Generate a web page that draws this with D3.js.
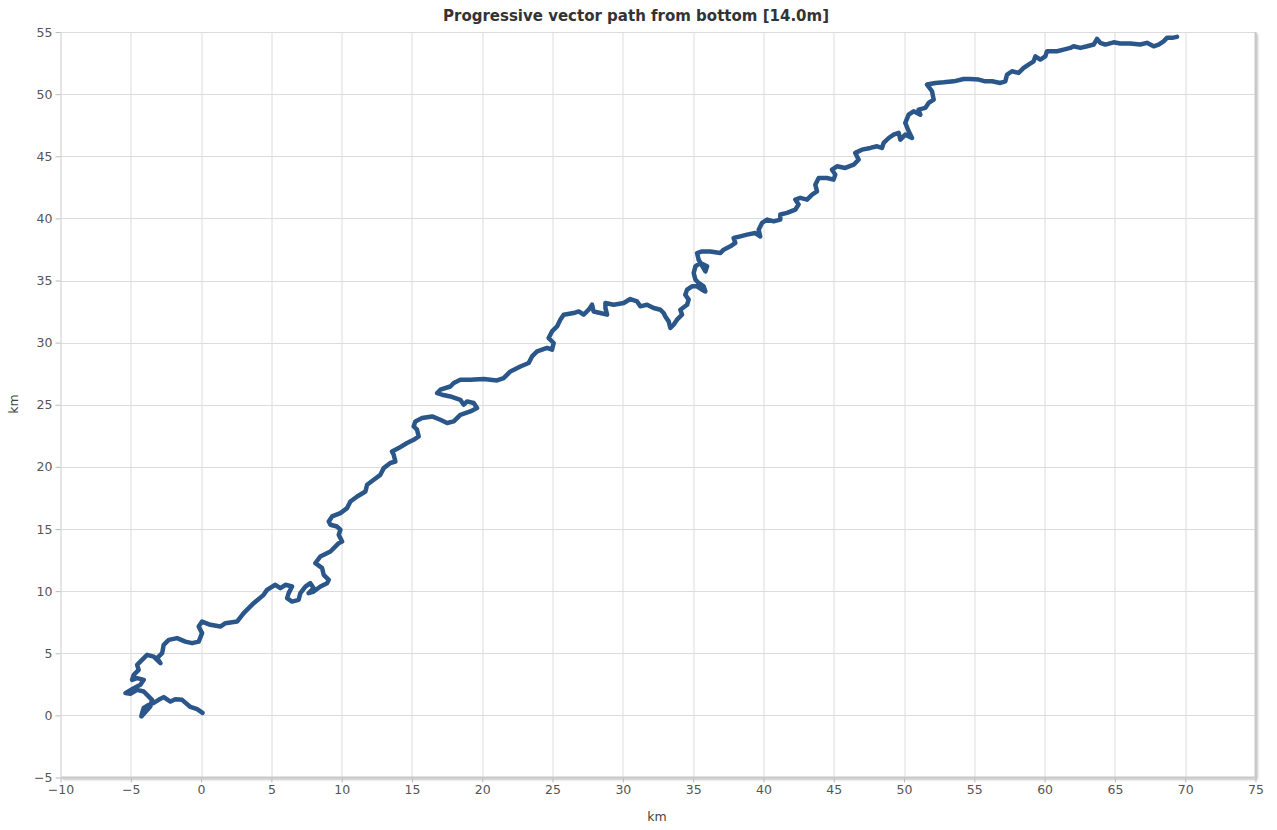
<!DOCTYPE html>
<html>
<head>
<meta charset="utf-8">
<script src="https://cdn.jsdelivr.net/npm/d3@7"></script>
<style>
  html, body { margin: 0; padding: 0; background: #fff; }
  svg { display: block; }
  .tick text { font-family: "DejaVu Sans", Verdana, sans-serif; font-size: 12.5px; fill: #555; }
</style>
</head>
<body>
<svg id="chart" width="1277" height="830"></svg>
<script>
// Cumulative displacement (km) of the progressive vector, east (x) and north (y)
const pathEast = [
  0.10, -0.28, -0.76, -1.35, -1.83, -2.18, -2.66, -3.02, -3.37, -3.73,
  -4.08, -4.20, -4.25, -3.61, -3.49, -3.84, -4.08, -4.55, -5.03, -5.38,
  -4.79, -4.32, -4.08, -4.55, -4.91, -4.79, -4.44, -4.55, -4.20, -3.84,
  -3.37, -2.89, -3.13, -2.77, -2.66, -2.30, -1.71, -1.12, -0.64, -0.17,
  0.07, -0.17, 0.07, 0.66, 1.37, 1.73, 2.56, 3.03, 3.74, 4.45,
  4.69, 5.28, 5.64, 6.00, 6.47, 6.23, 6.12, 6.47, 6.94, 7.06,
  7.42, 7.77, 8.01, 7.65, 8.01, 8.49, 8.96, 9.08, 8.72, 8.61,
  8.13, 8.48, 9.20, 9.79, 10.03, 9.79, 9.91, 9.67, 9.20, 9.08,
  9.32, 9.91, 10.38, 10.62, 11.10, 11.69, 11.81, 12.28, 12.75, 12.99,
  13.46, 13.82, 13.70, 13.58, 14.05, 14.65, 15.12, 15.48, 15.36, 15.12,
  15.24, 15.72, 16.43, 17.02, 17.50, 17.97, 18.44, 19.15, 19.63, 19.39,
  18.92, 18.68, 18.44, 17.73, 17.14, 16.79, 17.02, 17.73, 17.97, 18.44,
  19.15, 20.10, 21.05, 21.52, 22.00, 22.71, 23.30, 23.54, 23.90, 24.61,
  24.96, 25.08, 24.72, 24.96, 25.32, 25.55, 25.79, 26.50, 26.86, 27.21,
  27.57, 27.81, 27.92, 28.40, 28.88, 28.76, 28.76, 29.35, 30.06, 30.53,
  31.01, 31.24, 31.72, 32.19, 32.67, 32.90, 33.02, 33.26, 33.38, 33.61,
  33.85, 34.21, 34.09, 34.57, 34.68, 34.44, 34.57, 34.92, 35.28, 35.63,
  35.87, 35.75, 35.39, 35.16, 35.04, 35.16, 35.51, 35.99, 35.87, 35.39,
  35.28, 35.63, 36.22, 36.93, 37.17, 37.65, 38.00, 37.88, 38.35, 38.83,
  39.42, 39.77, 39.66, 39.90, 40.26, 40.73, 41.20, 41.20, 41.68, 42.27,
  42.50, 42.27, 42.62, 43.10, 43.46, 43.81, 43.69, 43.93, 44.52, 44.99,
  45.11, 44.88, 45.23, 45.82, 46.42, 46.77, 46.53, 47.01, 47.60, 48.08,
  48.43, 48.55, 48.91, 49.26, 49.62, 49.74, 50.09, 50.57, 50.33, 50.09,
  50.33, 50.68, 51.16, 51.04, 51.51, 51.75, 52.11, 51.99, 51.64, 52.23,
  52.82, 53.53, 54.24, 54.72, 55.31, 55.78, 56.26, 56.85, 57.20, 57.33,
  57.68, 58.15, 58.51, 58.86, 59.22, 59.34, 59.69, 60.05, 60.17, 60.53,
  60.88, 61.35, 61.83, 62.06, 62.54, 63.02, 63.49, 63.73, 63.96, 64.32,
  64.91, 65.38, 66.09, 66.80, 67.28, 67.75, 68.11, 68.46, 68.70, 69.06,
  69.42
];
const pathNorth = [
  0.20, 0.50, 0.68, 1.25, 1.30, 1.11, 1.47, 1.25, 1.01, 0.85,
  0.60, 0.18, -0.08, 0.71, 1.25, 1.65, 1.92, 2.05, 1.73, 1.79,
  2.19, 2.46, 2.86, 3.00, 2.86, 3.26, 3.66, 4.07, 4.47, 4.87,
  4.73, 4.20, 4.61, 5.01, 5.68, 6.08, 6.22, 5.94, 5.81, 5.94,
  6.62, 7.15, 7.55, 7.29, 7.15, 7.42, 7.55, 8.23, 9.03, 9.70,
  10.10, 10.51, 10.24, 10.51, 10.37, 9.84, 9.44, 9.16, 9.30, 9.84,
  10.37, 10.64, 10.24, 9.84, 9.97, 10.37, 10.64, 10.91, 11.31, 11.85,
  12.25, 12.79, 13.19, 13.86, 13.99, 14.53, 14.94, 15.20, 15.34, 15.60,
  16.01, 16.28, 16.68, 17.21, 17.62, 18.02, 18.56, 18.96, 19.36, 19.90,
  20.31, 20.43, 20.97, 21.24, 21.51, 21.92, 22.18, 22.45, 22.99, 23.25,
  23.66, 23.93, 24.06, 23.79, 23.53, 23.66, 24.19, 24.46, 24.74, 25.14,
  25.27, 25.00, 25.40, 25.67, 25.81, 25.94, 26.21, 26.47, 26.75, 27.01,
  27.01, 27.07, 26.96, 27.15, 27.68, 28.08, 28.36, 28.89, 29.29, 29.57,
  29.43, 29.97, 30.37, 30.90, 31.30, 31.84, 32.25, 32.38, 32.51, 32.25,
  32.65, 33.05, 32.51, 32.38, 32.25, 32.79, 33.19, 33.05, 33.19, 33.51,
  33.32, 32.92, 33.05, 32.79, 32.65, 32.38, 32.11, 31.71, 31.18, 31.44,
  31.85, 32.25, 32.65, 33.05, 33.46, 33.86, 34.26, 34.53, 34.53, 34.26,
  34.12, 34.53, 34.80, 35.07, 35.60, 36.14, 36.41, 36.14, 35.73, 36.67,
  37.21, 37.34, 37.34, 37.21, 37.48, 37.75, 38.02, 38.42, 38.55, 38.69,
  38.82, 38.55, 39.09, 39.63, 39.90, 39.76, 39.90, 40.31, 40.44, 40.71,
  41.11, 41.51, 41.65, 41.51, 41.91, 42.17, 42.71, 43.25, 43.25, 43.12,
  43.52, 43.92, 44.19, 44.06, 44.32, 44.73, 45.27, 45.53, 45.67, 45.80,
  45.67, 46.07, 46.47, 46.74, 46.88, 46.34, 46.74, 46.47, 47.01, 47.68,
  48.35, 48.62, 48.35, 48.75, 48.89, 49.29, 49.56, 50.23, 50.77, 50.90,
  50.95, 51.03, 51.22, 51.22, 51.17, 51.03, 51.03, 50.90, 51.03, 51.57,
  51.84, 51.71, 52.11, 52.38, 52.64, 53.04, 52.78, 53.04, 53.45, 53.45,
  53.45, 53.58, 53.72, 53.85, 53.72, 53.85, 53.99, 54.45, 54.13, 53.99,
  54.17, 54.07, 54.07, 53.99, 54.13, 53.85, 53.99, 54.25, 54.53, 54.53,
  54.61
];

// Axis extents and tick values (km)
const xTicks = [-10, -5, 0, 5, 10, 15, 20, 25, 30, 35, 40, 45, 50, 55, 60, 65, 70, 75];
const yTicks = [-5, 0, 5, 10, 15, 20, 25, 30, 35, 40, 45, 50, 55];
const chartTitle = "Progressive vector path from bottom [14.0m]";
const xTitle = "km";
const yTitle = "km";

const W = 1277, H = 830;
const margin = { left: 60.5, right: 21.5, top: 32, bottom: 52.5 };
const plotW = W - margin.left - margin.right;
const plotH = H - margin.top - margin.bottom;

const svg = d3.select("#chart");

const x = d3.scaleLinear().domain([-10, 75]).range([0, plotW]);
const y = d3.scaleLinear().domain([-5, 55]).range([plotH, 0]);

const defs = svg.append("defs");
const shadow = defs.append("filter").attr("id", "plotShadow")
  .attr("x", "-5%").attr("y", "-5%").attr("width", "110%").attr("height", "110%");
shadow.append("feDropShadow").attr("dx", 2).attr("dy", 2)
  .attr("stdDeviation", 1.2).attr("flood-color", "#000").attr("flood-opacity", 0.3);

const g = svg.append("g").attr("transform", `translate(${margin.left},${margin.top})`);

// Plot background with a soft edge to the right and below
g.append("rect")
  .attr("width", plotW).attr("height", plotH)
  .attr("fill", "#fff")
  .attr("filter", "url(#plotShadow)");

// Grid
g.append("g").selectAll("line.vx").data(xTicks).join("line")
  .attr("x1", d => Math.round(x(d)) + 0.5).attr("x2", d => Math.round(x(d)) + 0.5)
  .attr("y1", 0).attr("y2", plotH)
  .attr("stroke", "#dcdcdc").attr("stroke-width", 1);
g.append("g").selectAll("line.hy").data(yTicks).join("line")
  .attr("y1", d => Math.round(y(d)) + 0.5).attr("y2", d => Math.round(y(d)) + 0.5)
  .attr("x1", 0).attr("x2", plotW)
  .attr("stroke", "#dcdcdc").attr("stroke-width", 1);

// Frame edges
g.append("line").attr("x1", 0).attr("x2", plotW).attr("y1", plotH).attr("y2", plotH)
  .attr("stroke", "#c8c8c8").attr("stroke-width", 2);
g.append("line").attr("x1", plotW).attr("x2", plotW).attr("y1", 0).attr("y2", plotH)
  .attr("stroke", "#c8c8c8").attr("stroke-width", 2);
g.append("line").attr("x1", 0.5).attr("x2", 0.5).attr("y1", 0).attr("y2", plotH)
  .attr("stroke", "#dcdcdc").attr("stroke-width", 1);

// Axes
const xAxis = d3.axisBottom(x).tickValues(xTicks).tickSize(4).tickPadding(3).tickFormat(d3.format("d"));
const yAxis = d3.axisLeft(y).tickValues(yTicks).tickSize(5).tickPadding(3).tickFormat(d3.format("d"));

const gx = g.append("g").attr("transform", `translate(0,${plotH + 1})`).call(xAxis);
const gy = g.append("g").call(yAxis);
[gx, gy].forEach(a => {
  a.select(".domain").remove();
  a.selectAll(".tick line").attr("stroke", "#bbb");
});

// Path line
const pts = pathEast.map((e, i) => [e, pathNorth[i]]);
const line = d3.line().x(d => x(d[0])).y(d => y(d[1])).curve(d3.curveLinear);
g.append("path")
  .datum(pts)
  .attr("d", line)
  .attr("fill", "none")
  .attr("stroke", "#2a5689")
  .attr("stroke-width", 4.5)
  .attr("stroke-linejoin", "round")
  .attr("stroke-linecap", "round");

// Titles
svg.append("text")
  .attr("x", 636).attr("y", 21)
  .attr("text-anchor", "middle")
  .attr("font-family", "'DejaVu Sans', Verdana, sans-serif")
  .attr("font-size", 15).attr("font-weight", "bold").attr("fill", "#333")
  .text(chartTitle);

svg.append("text")
  .attr("x", 657).attr("y", 821)
  .attr("text-anchor", "middle")
  .attr("font-family", "'DejaVu Sans', Verdana, sans-serif")
  .attr("font-size", 12.5).attr("fill", "#444")
  .text(xTitle);

svg.append("text")
  .attr("transform", "translate(18,404) rotate(-90)")
  .attr("text-anchor", "middle")
  .attr("font-family", "'DejaVu Sans', Verdana, sans-serif")
  .attr("font-size", 12.5).attr("fill", "#444")
  .text(yTitle);
</script>
</body>
</html>
